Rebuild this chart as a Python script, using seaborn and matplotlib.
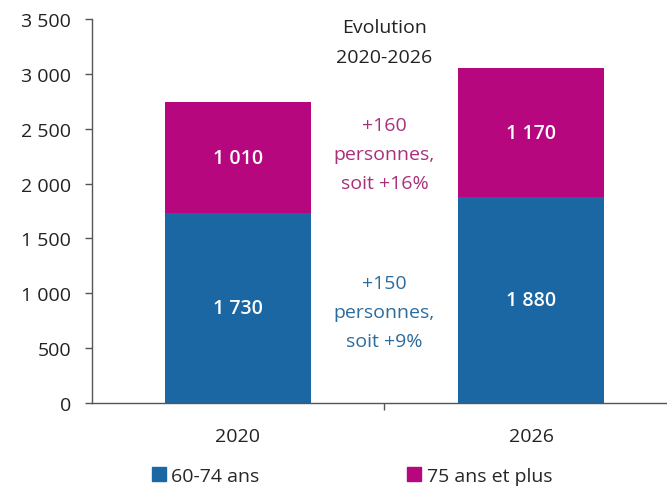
import matplotlib
matplotlib.use("Agg")
import matplotlib.pyplot as plt
import seaborn as sns
import pandas as pd
from matplotlib.patches import Patch
from matplotlib.ticker import FuncFormatter, FixedLocator

years = ["2020", "2026"]
age_60_74 = [1730, 1880]
age_75_plus = [1010, 1170]
series_names = ["60-74 ans", "75 ans et plus"]
y_ticks = [0, 500, 1000, 1500, 2000, 2500, 3000, 3500]

BLUE = "#1B67A3"
PINK = "#B6077F"

sns.set_theme(style="white")
plt.rcParams["font.family"] = ["Open Sans", "DejaVu Sans"]

df = pd.DataFrame({"year": years, "a": age_60_74, "b": age_75_plus})
df["total"] = df["a"] + df["b"]

fig = plt.figure(figsize=(6.67, 4.89), dpi=100)
ax = fig.add_axes([92/667, 1-404/489, 1-92/667, (404-20)/489])

sns.barplot(data=df, x="year", y="total", color=PINK, width=0.5, saturation=1, linewidth=0, ax=ax)
sns.barplot(data=df, x="year", y="a", color=BLUE, width=0.5, saturation=1, linewidth=0, ax=ax)

def fmt(v):
    return f"{int(v):,}".replace(",", " ")

FS = 14
for i, (a, b) in enumerate(zip(age_60_74, age_75_plus)):
    ax.text(i, a/2, fmt(a), ha="center", va="center", color="white", fontsize=FS, fontweight="semibold")
    ax.text(i, a + b/2, fmt(b), ha="center", va="center", color="white", fontsize=FS, fontweight="semibold")

LS = 1.8
ax.text(0.5, 3290, "Evolution\n2020-2026", ha="center", va="center", color="#222222",
        fontsize=FS, linespacing=LS)
d_b = age_75_plus[1] - age_75_plus[0]
d_a = age_60_74[1] - age_60_74[0]
ax.text(0.5, 2270, f"+{d_b}\npersonnes,\nsoit +{round(100*d_b/age_75_plus[0])}%", ha="center",
        va="center", color="#A8307C", fontsize=FS, linespacing=LS)
ax.text(0.5, 830, f"+{d_a}\npersonnes,\nsoit +{round(100*d_a/age_60_74[0])}%", ha="center",
        va="center", color="#2B6C9E", fontsize=FS, linespacing=LS)

ax.set_ylim(0, 3500)
ax.set_xlim(-0.498, 1.464)
ax.yaxis.set_major_locator(FixedLocator(y_ticks))
ax.yaxis.set_major_formatter(FuncFormatter(lambda v, p: fmt(v)))
ax.set_xlabel("")
ax.set_ylabel("")
for s in ["top", "right"]:
    ax.spines[s].set_visible(False)
for s in ["left", "bottom"]:
    ax.spines[s].set_color("#555555")
    ax.spines[s].set_linewidth(1.0)

ax.tick_params(axis="y", which="major", left=True, length=5, width=1, color="#555555",
               labelsize=FS, labelcolor="#222222", pad=10)
ax.tick_params(axis="x", which="major", bottom=False, labelsize=FS, labelcolor="#222222", pad=11)
ax.xaxis.set_minor_locator(FixedLocator([0.5]))
ax.tick_params(axis="x", which="minor", bottom=True, length=5, width=1, color="#555555")

handles = [Patch(color=BLUE), Patch(color=PINK)]
fig.legend(handles, series_names, ncol=2, loc="center left", bbox_to_anchor=(152/667, 1-477/489),
           frameon=False, fontsize=FS, handlelength=0.7, handleheight=0.7, handletextpad=0.3,
           columnspacing=7.6, borderaxespad=0, borderpad=0)

fig.savefig("out.png", dpi=100)
